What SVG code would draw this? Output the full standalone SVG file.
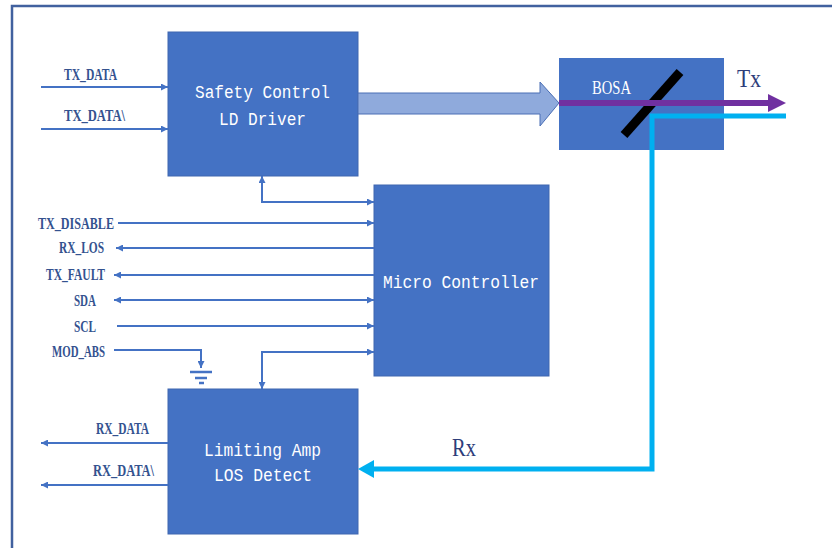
<svg xmlns="http://www.w3.org/2000/svg" width="832" height="548" viewBox="0 0 832 548">
<defs>
<style>
.box{fill:#4472C4;stroke:#3F66B0;stroke-width:1}
.bt{fill:#FFFFFF;font-family:"Liberation Mono","DejaVu Sans Mono",monospace;font-size:19px}
.lb{fill:#34528F;font-family:"Liberation Serif","DejaVu Serif",serif;font-size:16px;font-weight:bold}
.big{fill:#2E3D7A;font-family:"Liberation Serif","DejaVu Serif",serif;font-size:26px}
.w{fill:none;stroke:#4472C4;stroke-width:2}
</style>
<marker id="ah" viewBox="0 0 8 8" refX="8" refY="4" markerWidth="8" markerHeight="7" markerUnits="userSpaceOnUse" orient="auto-start-reverse">
<path d="M0,0 L8,4 L0,8 z" fill="#4472C4"/>
</marker>
</defs>
<path d="M12,548 V6 H832" fill="none" stroke="#41619F" stroke-width="2.5"/>

<g id="safety">
<rect class="box" x="168" y="32" width="190" height="144"/>
<text class="bt" x="195" y="98" textLength="135" lengthAdjust="spacingAndGlyphs">Safety Control</text>
<text class="bt" x="219" y="125" textLength="87" lengthAdjust="spacingAndGlyphs">LD Driver</text>
</g>

<g id="micro">
<rect class="box" x="374" y="185" width="175" height="191"/>
<text class="bt" x="383" y="288" textLength="156" lengthAdjust="spacingAndGlyphs">Micro Controller</text>
</g>

<g id="limiting">
<rect class="box" x="168" y="389" width="190" height="145"/>
<text class="bt" x="204" y="456" textLength="117" lengthAdjust="spacingAndGlyphs">Limiting Amp</text>
<text class="bt" x="214" y="481" textLength="98" lengthAdjust="spacingAndGlyphs">LOS Detect</text>
</g>

<g id="bosa">
<rect x="559" y="58" width="165" height="92" fill="#4472C4"/>
<text x="592" y="94" fill="#FFFFFF" font-family="Liberation Serif, DejaVu Serif, serif" font-size="19" textLength="39" lengthAdjust="spacingAndGlyphs">BOSA</text>
<line x1="624" y1="135" x2="680" y2="72" stroke="#000000" stroke-width="9"/>
</g>

<g id="connectors">
<polygon points="358,93 540,93 540,82 559,103 540,126 540,114 358,114" fill="#8FAADC" stroke="#4A6FB5" stroke-width="1"/>
<line x1="559" y1="103" x2="770" y2="103" stroke="#7030A0" stroke-width="6"/>
<polygon points="768,94 786,103 768,112" fill="#7030A0"/>
<polyline points="786,116 652,116 652,469 372,469" fill="none" stroke="#00B0F0" stroke-width="5"/>
<polygon points="358,469 374,460 374,478" fill="#00B0F0"/>

<line class="w" x1="41" y1="87" x2="168" y2="87" marker-end="url(#ah)"/>
<line class="w" x1="41" y1="129" x2="168" y2="129" marker-end="url(#ah)"/>
<polyline class="w" points="262,176 262,202 374,202" marker-start="url(#ah)" marker-end="url(#ah)"/>
<line class="w" x1="118" y1="223" x2="374" y2="223" marker-end="url(#ah)"/>
<line class="w" x1="374" y1="248" x2="116" y2="248" marker-end="url(#ah)"/>
<line class="w" x1="374" y1="275" x2="114" y2="275" marker-end="url(#ah)"/>
<line class="w" x1="114" y1="300" x2="374" y2="300" marker-start="url(#ah)" marker-end="url(#ah)"/>
<line class="w" x1="117" y1="326" x2="374" y2="326" marker-end="url(#ah)"/>
<polyline class="w" points="114,350 201,350 201,368" marker-end="url(#ah)"/>
<line x1="190" y1="372" x2="212" y2="372" stroke="#4472C4" stroke-width="2.5"/>
<line x1="195" y1="378" x2="207" y2="378" stroke="#4472C4" stroke-width="2.5"/>
<line x1="199" y1="383" x2="204" y2="383" stroke="#4472C4" stroke-width="2.5"/>
<polyline class="w" points="374,352 262,352 262,389" marker-start="url(#ah)" marker-end="url(#ah)"/>
<line class="w" x1="168" y1="443" x2="41" y2="443" marker-end="url(#ah)"/>
<line class="w" x1="168" y1="485" x2="41" y2="485" marker-end="url(#ah)"/>
</g>

<g id="labels">
<text class="lb" x="64" y="80" textLength="53" lengthAdjust="spacingAndGlyphs">TX_DATA</text>
<text class="lb" x="64" y="121" textLength="61" lengthAdjust="spacingAndGlyphs">TX_DATA\</text>
<text class="lb" x="38" y="229" textLength="76" lengthAdjust="spacingAndGlyphs">TX_DISABLE</text>
<text class="lb" x="59" y="253" textLength="45" lengthAdjust="spacingAndGlyphs">RX_LOS</text>
<text class="lb" x="46" y="280" textLength="59" lengthAdjust="spacingAndGlyphs">TX_FAULT</text>
<text class="lb" x="74" y="306" textLength="22" lengthAdjust="spacingAndGlyphs">SDA</text>
<text class="lb" x="74" y="332" textLength="22" lengthAdjust="spacingAndGlyphs">SCL</text>
<text class="lb" x="52" y="357" textLength="53" lengthAdjust="spacingAndGlyphs">MOD_ABS</text>
<text class="lb" x="96" y="434" textLength="53" lengthAdjust="spacingAndGlyphs">RX_DATA</text>
<text class="lb" x="93" y="476" textLength="61" lengthAdjust="spacingAndGlyphs">RX_DATA\</text>
<text class="big" x="737" y="87" textLength="24" lengthAdjust="spacingAndGlyphs">Tx</text>
<text class="big" x="452" y="456" textLength="24" lengthAdjust="spacingAndGlyphs">Rx</text>
</g>
</svg>
